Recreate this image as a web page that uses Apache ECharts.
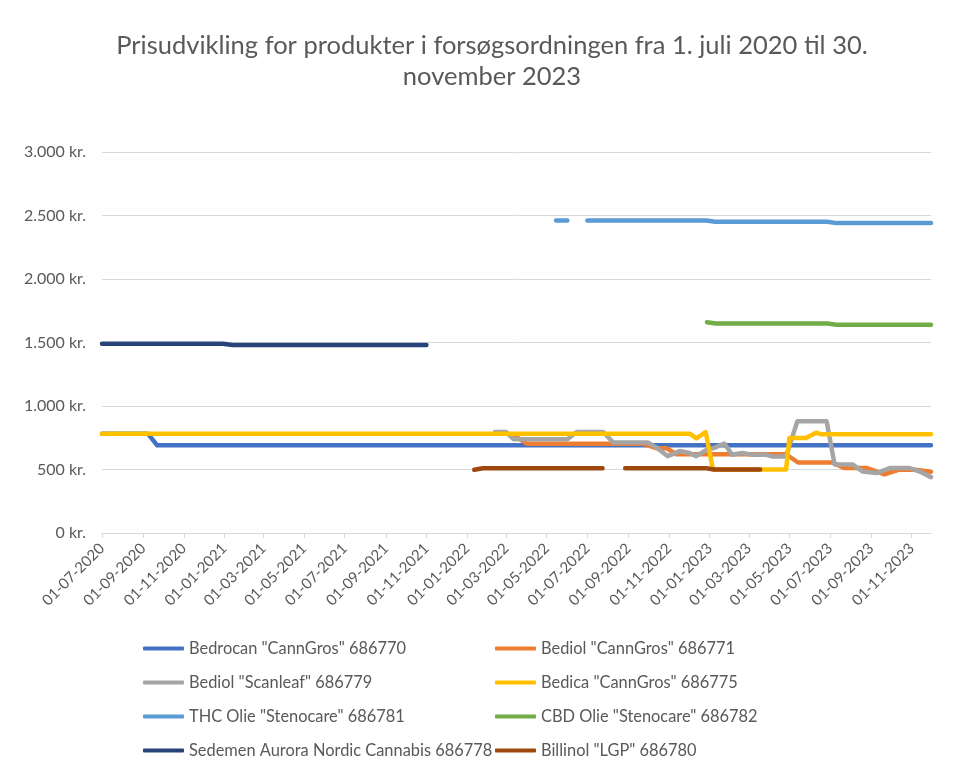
<!DOCTYPE html>
<html>
<head>
<meta charset="utf-8">
<script src="https://cdn.jsdelivr.net/npm/echarts@6/dist/echarts.min.js"></script>
<style>
html,body{margin:0;padding:0;background:#fff}
#c{width:953px;height:769px}
</style>
</head>
<body>
<div id="c"></div>
<script>
// ---- Data (price change points: [date, kr.]) ----
const titleText = 'Prisudvikling for produkter i forsøgsordningen fra 1. juli 2020 til 30.\nnovember 2023';
const seriesNames = [
  'Bedrocan "CannGros" 686770',
  'Bediol "CannGros" 686771',
  'Bediol "Scanleaf" 686779',
  'Bedica "CannGros" 686775',
  'THC Olie "Stenocare" 686781',
  'CBD Olie "Stenocare" 686782',
  'Sedemen Aurora Nordic Cannabis 686778',
  'Billinol "LGP" 686780'
];
const seriesColors = ['#4472C4','#ED7D31','#A5A5A5','#FFC000','#5B9BD5','#70AD47','#264478','#9E480E'];

const bedrocan = [['2020-07-01',782],['2020-09-08',782],['2020-09-22',690],['2023-11-30',690]];
const bediolCannGros = [['2022-03-01',785],['2022-03-15',760],['2022-04-01',703],['2022-09-22',703],
  ['2022-10-13',668],['2022-10-28',668],['2022-11-12',620],['2023-04-26',620],['2023-05-14',555],
  ['2023-07-05',555],['2023-07-22',512],['2023-08-25',512],['2023-09-21',462],['2023-10-12',498],
  ['2023-11-06',498],['2023-11-30',482]];
const bediolScanleaf = [['2022-02-12',795],['2022-03-01',795],['2022-03-12',738],['2022-06-01',738],
  ['2022-06-15',795],['2022-07-25',795],['2022-08-09',712],['2022-09-30',712],['2022-10-14',670],
  ['2022-10-30',605],['2022-11-17',645],['2022-12-02',630],['2022-12-12',605],['2022-12-26',650],
  ['2023-01-08',670],['2023-01-23',705],['2023-02-04',616],['2023-02-19',630],['2023-03-06',616],
  ['2023-03-27',616],['2023-04-05',603],['2023-04-26',603],['2023-05-13',880],['2023-06-26',880],
  ['2023-07-08',540],['2023-08-04',540],['2023-08-19',484],['2023-09-09',472],['2023-09-29',511],
  ['2023-10-29',511],['2023-11-13',484],['2023-11-30',440]];
const bedica = [['2020-07-01',782],['2022-12-02',782],['2022-12-12',745],['2022-12-26',795],
  ['2023-01-06',500],['2023-04-26',500],['2023-05-01',748],['2023-05-26',748],['2023-06-10',790],
  ['2023-06-17',778],['2023-11-30',778]];
const thcOlie = [['2022-05-15',2460],['2022-06-01',2460],['2022-06-15',null],['2022-07-01',2460],
  ['2022-12-27',2460],['2023-01-09',2450],['2023-06-27',2450],['2023-07-11',2440],['2023-11-30',2440]];
const cbdOlie = [['2022-12-28',1660],['2023-01-10',1650],['2023-06-27',1650],['2023-07-11',1640],['2023-11-30',1640]];
const sedemen = [['2020-07-01',1490],['2020-12-30',1490],['2021-01-13',1480],['2021-11-01',1480]];
const billinol = [['2022-01-12',498],['2022-01-25',510],['2022-07-24',510],['2022-08-10',null],
  ['2022-08-27',510],['2022-12-27',510],['2023-01-08',500],['2023-03-18',500]];

const allData = [bedrocan, bediolCannGros, bediolScanleaf, bedica, thcOlie, cbdOlie, sedemen, billinol];
const yTicks = {min: 0, max: 3000, interval: 500};
const xStart = [2020, 6, 1], xEnd = [2023, 10, 30];

// ---- Chart ----
const DAY = 86400000;
const pad = n => (n < 10 ? '0' : '') + n;
const fontFam = 'Lato, "Noto Sans", sans-serif';
const textColor = '#595959';
const gridColor = '#D9D9D9';

const legendCommon = {
  orient: 'vertical', top: 635, itemWidth: 41, itemHeight: 4, itemGap: 17,
  icon: 'roundRect',
  textStyle: {fontFamily: fontFam, fontSize: 16.4, color: textColor, lineHeight: 17}
};

const chart = echarts.init(document.getElementById('c'));
const option = {
  backgroundColor: '#fff',
  animation: false,
  title: {
    text: titleText,
    left: 487, top: 25, textAlign: 'center',
    textStyle: {fontFamily: fontFam, fontSize: 25.5, fontWeight: 'normal', color: textColor, lineHeight: 31}
  },
  legend: [
    Object.assign({}, legendCommon, {
      left: 138,
      data: [seriesNames[0], seriesNames[2], seriesNames[4], seriesNames[6]]
    }),
    Object.assign({}, legendCommon, {
      left: 490,
      data: [seriesNames[1], seriesNames[3], seriesNames[5], seriesNames[7]]
    })
  ],
  grid: {left: 102, right: 22, top: 152, bottom: 236, containLabel: false},
  xAxis: {
    type: 'time',
    min: +new Date(...xStart),
    max: +new Date(...xEnd),
    splitNumber: 20,
    minInterval: 62 * DAY,
    maxInterval: 62 * DAY,
    axisLine: {lineStyle: {color: gridColor, width: 1}},
    axisTick: {show: true, length: 5, lineStyle: {color: gridColor}},
    splitLine: {show: false},
    axisLabel: {
      rotate: 45, margin: 13, color: textColor, fontFamily: fontFam, fontSize: 15,
      hideOverlap: false,
      formatter: function (v) {
        const d = new Date(v);
        if (d.getDate() !== 1) return '';
        return pad(d.getDate()) + '-' + pad(d.getMonth() + 1) + '-' + d.getFullYear();
      }
    }
  },
  yAxis: {
    type: 'value',
    min: yTicks.min, max: yTicks.max, interval: yTicks.interval,
    axisLine: {show: false},
    axisTick: {show: false},
    splitLine: {lineStyle: {color: gridColor, width: 1}},
    axisLabel: {
      margin: 16, color: textColor, fontFamily: fontFam, fontSize: 16,
      formatter: v => String(v).replace(/\B(?=(\d{3})+(?!\d))/g, '.') + ' kr.'
    }
  },
  series: allData.map((d, i) => ({
    name: seriesNames[i],
    type: 'line',
    data: d,
    showSymbol: false,
    symbol: 'none',
    connectNulls: false,
    color: seriesColors[i],
    lineStyle: {width: 4.5, color: seriesColors[i], cap: 'round', join: 'round'}
  }))
};
chart.setOption(option);
</script>
</body>
</html>
